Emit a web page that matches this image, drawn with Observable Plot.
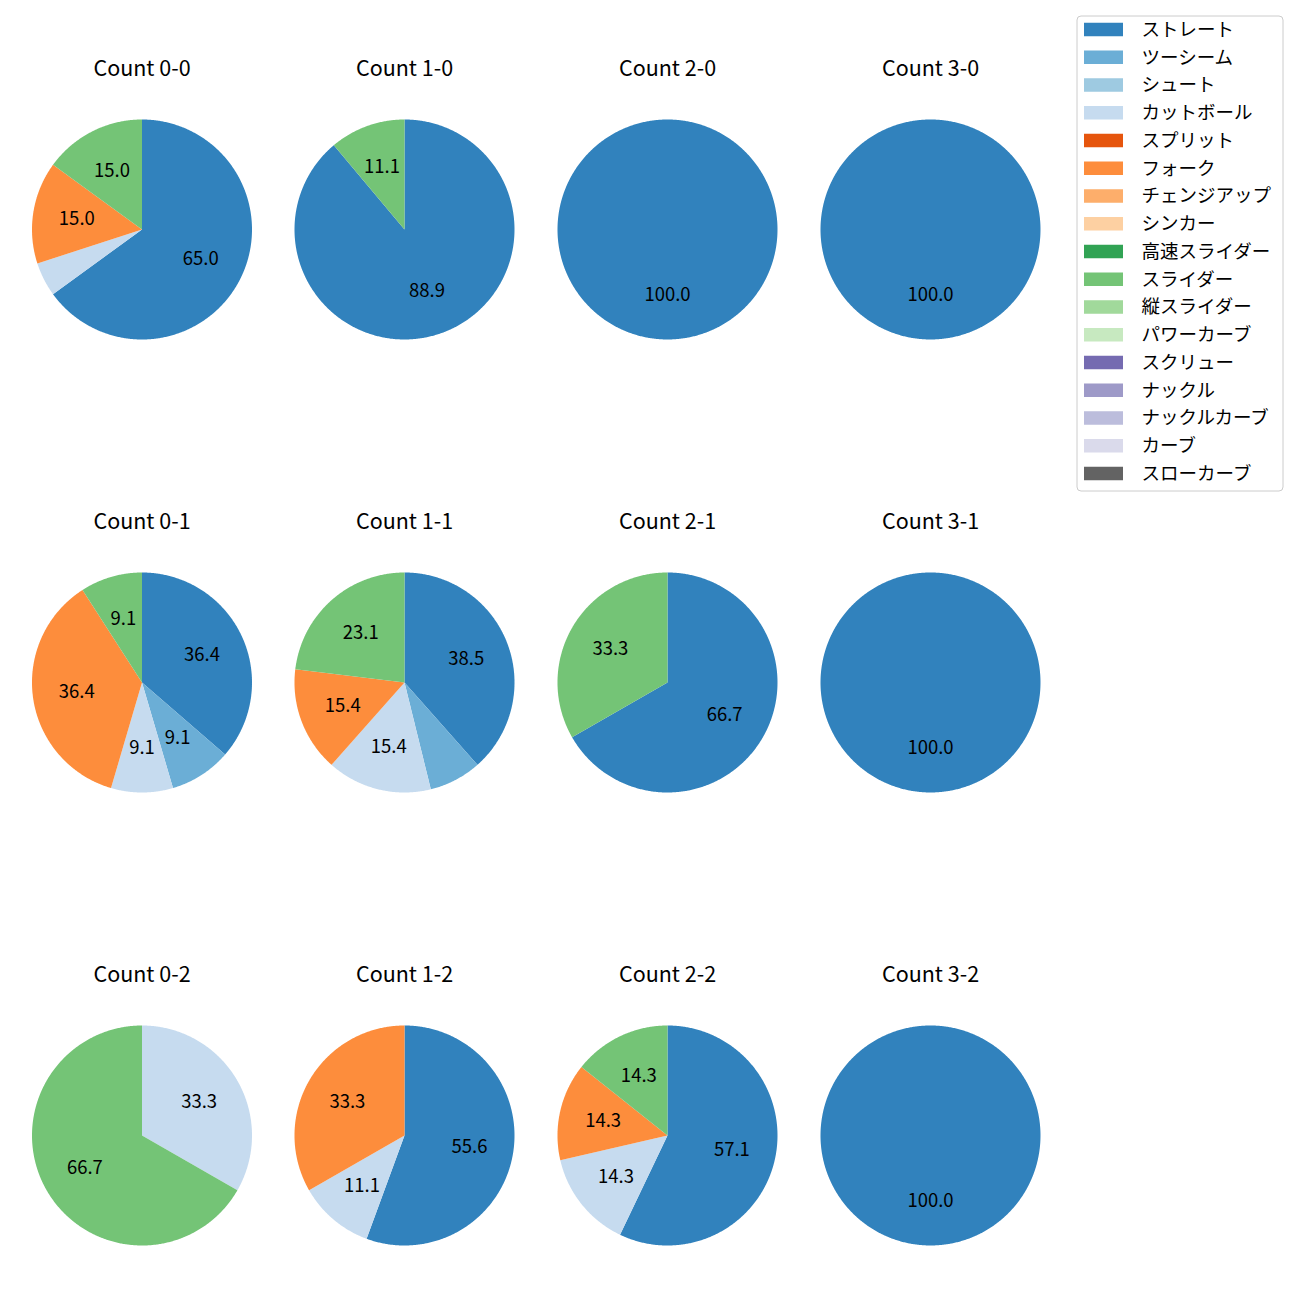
<!DOCTYPE html>
<html>
<head>
<meta charset="utf-8">
<script src="https://cdn.jsdelivr.net/npm/d3@7"></script>
<script src="https://cdn.jsdelivr.net/npm/@observablehq/plot@0.6"></script>
<style>
  html, body { margin: 0; padding: 0; background: white; }
</style>
</head>
<body>
<div id="chart"></div>
<script>
// ---- Data ----
const pitches = ["ストレート","ツーシーム","シュート","カットボール","スプリット","フォーク","チェンジアップ","シンカー","高速スライダー","スライダー","縦スライダー","パワーカーブ","スクリュー","ナックル","ナックルカーブ","カーブ","スローカーブ"];
const pitchColors = ["#3182bd","#6baed6","#9ecae1","#c6dbef","#e6550d","#fd8d3c","#fdae6b","#fdd0a2","#31a354","#74c476","#a1d99b","#c7e9c0","#756bb1","#9e9ac8","#bcbddc","#dadaeb","#636363"];
const counts = ["0-0","1-0","2-0","3-0","0-1","1-1","2-1","3-1","0-2","1-2","2-2","3-2"];
// percentage share per count (same order as counts)
const straight  = [65.0, 88.9, 100, 100, 36.4, 38.5, 66.7, 100, 0,    55.6, 57.1, 100];
const twoSeam   = [0,    0,    0,   0,   9.1,  7.7,  0,    0,   0,    0,    0,    0];
const cutter    = [5.0,  0,    0,   0,   9.1,  15.4, 0,    0,   33.3, 11.1, 14.3, 0];
const forkball  = [15.0, 0,    0,   0,   36.4, 15.4, 0,    0,   0,    33.3, 14.3, 0];
const slider    = [15.0, 11.1, 0,   0,   9.1,  23.1, 33.3, 0,   66.7, 0,    14.3, 0];
const seriesByPitch = {
  "ストレート": straight,
  "ツーシーム": twoSeam,
  "カットボール": cutter,
  "フォーク": forkball,
  "スライダー": slider
};

// ---- Layout ----
const W = 1300, H = 1300;
const colX = [141.5, 404, 667, 930];
const rowY = [229, 682, 1135];
const R = 110;
const titleGap = 160;
const labelFrac = 0.6;
const labelMin = 8;
const legend = {x1: 1077, x2: 1283, y1: 16, y2: 491, firstY: 29.5, step: 27.75, swX1: 1084, swX2: 1123, swH: 13.5, textX: 1141};

// ---- Build wedge geometry via d3.pie ----
const pie = d3.pie().sort(null).value(d => d.v);
const wedgePts = [];
const labels = [];
const titles = [];
counts.forEach((c, i) => {
  const cx = colX[i % 4], cy = rowY[Math.floor(i / 4)];
  titles.push({x: cx, y: cy - titleGap, text: "Count " + c});
  const rows = pitches.map(p => ({pitch: p, v: seriesByPitch[p] ? seriesByPitch[p][i] : 0}));
  const arcs = pie(rows);
  arcs.forEach((a, j) => {
    if (a.data.v <= 0) return;
    const key = c + "|" + a.data.pitch;
    const span = a.endAngle - a.startAngle;
    const n = Math.max(2, Math.ceil(span / (Math.PI / 360)));
    wedgePts.push({key, pitch: a.data.pitch, x: cx, y: cy});
    for (let k = 0; k <= n; k++) {
      const t = a.startAngle + span * k / n;
      wedgePts.push({key, pitch: a.data.pitch, x: cx + R * Math.sin(t), y: cy - R * Math.cos(t)});
    }
    if (a.data.v >= labelMin) {
      const m = (a.startAngle + a.endAngle) / 2;
      labels.push({x: cx + labelFrac * R * Math.sin(m), y: cy - labelFrac * R * Math.cos(m), text: a.data.v.toFixed(1)});
    }
  });
});

const legendRows = pitches.map((p, k) => ({pitch: p, yc: legend.firstY + k * legend.step}));

const chart = Plot.plot({
  width: W, height: H,
  margin: 0,
  x: {domain: [0, W], range: [0, W], axis: null},
  y: {domain: [0, H], range: [0, H], axis: null},
  color: {domain: pitches, range: pitchColors},
  style: {fontFamily: "'Noto Sans CJK JP', 'Noto Sans', sans-serif", background: "white"},
  marks: [
    Plot.line(wedgePts, {x: "x", y: "y", z: "key", fill: "pitch", stroke: null, curve: "linear-closed"}),
    Plot.text(labels, {x: "x", y: "y", text: "text", fill: "black", fontSize: 18.5, lineAnchor: "middle", textAnchor: "middle"}),
    Plot.text(titles, {x: "x", y: "y", text: "text", fill: "black", fontSize: 21.5, lineAnchor: "middle", textAnchor: "middle"}),
    Plot.rect([legend], {x1: "x1", x2: "x2", y1: "y1", y2: "y2", fill: "white", stroke: "#cccccc", strokeWidth: 1, rx: 4}),
    Plot.rect(legendRows, {x1: () => legend.swX1, x2: () => legend.swX2, y1: d => d.yc - legend.swH / 2, y2: d => d.yc + legend.swH / 2, fill: "pitch"}),
    Plot.text(legendRows, {x: () => legend.textX, y: "yc", text: "pitch", fill: "black", fontSize: 18.5, textAnchor: "start", lineAnchor: "middle"})
  ]
});
document.getElementById("chart").appendChild(chart);
</script>
</body>
</html>
